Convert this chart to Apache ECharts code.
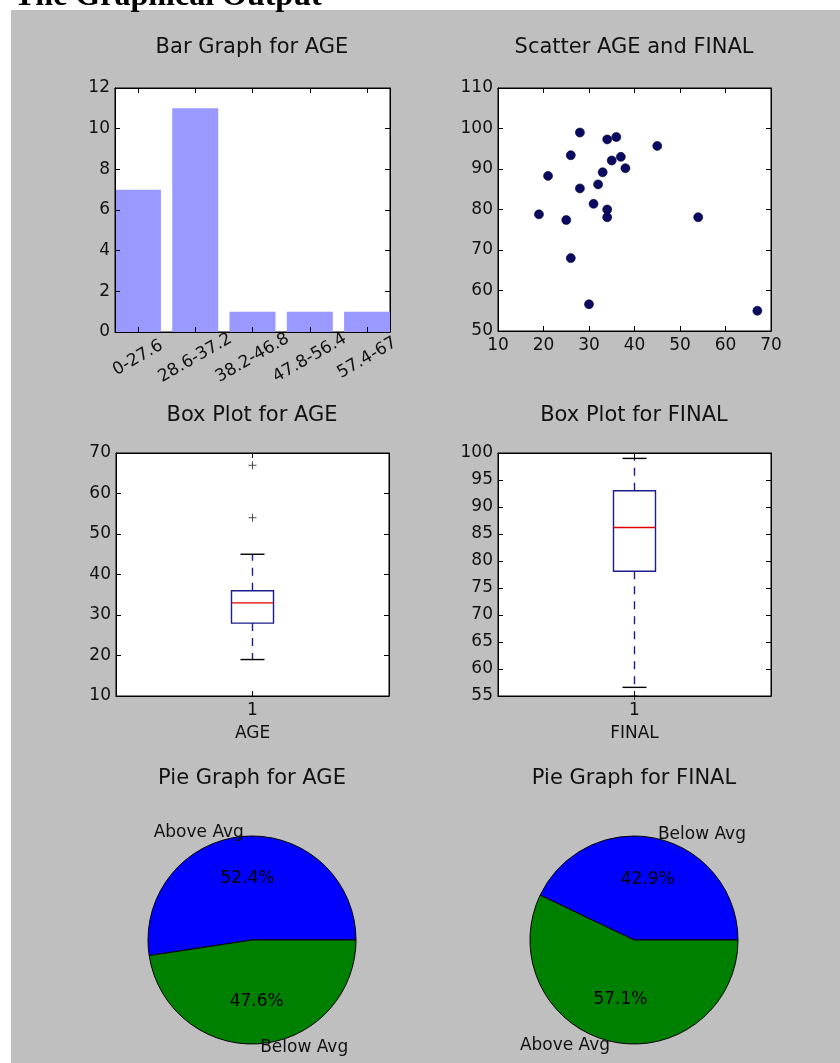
<!DOCTYPE html>
<html><head><meta charset="utf-8">
<script src="https://cdn.jsdelivr.net/npm/echarts@6/dist/echarts.min.js"></script>
<style>html,body{margin:0;padding:0;background:#fff;overflow:hidden;} #c{width:840px;height:1063px;}</style>
</head><body><div id="c"></div>
<script>
// ---------- data ----------
const binLabels = ['0-27.6', '28.6-37.2', '38.2-46.8', '47.8-56.4', '57.4-67'];
const binCounts = [7, 11, 1, 1, 1];
const ageValues = [19, 21, 25, 26, 26, 28, 28, 30, 31, 32, 33, 34, 34, 34, 35, 36, 37, 38, 45, 54, 67];
const finalValues = [78.8, 88.3, 77.4, 93.4, 68, 99, 85.2, 56.6, 81.4, 86.2, 89.2, 97.3, 80, 78.1, 92.1, 97.9, 93, 90.2, 95.7, 78.1, 55];
const ageBox = [19, 28, 33, 36, 45];          // low whisker, Q1, median, Q3, high whisker
const ageOutliers = [54, 67];
const finalBox = [56.6, 78.1, 86.2, 93.0, 99];
const finalOutliers = [55];
const ageSliceNames = ['Above Avg', 'Below Avg'];
const ageShares = [52.4, 47.6];
const finalSliceNames = ['Below Avg', 'Above Avg'];
const finalShares = [42.9, 57.1];
const panelTitles = ['Bar Graph for AGE', 'Scatter AGE and FINAL', 'Box Plot for AGE', 'Box Plot for FINAL', 'Pie Graph for AGE', 'Pie Graph for FINAL'];
const heading = 'The Graphical Output';

// ---------- style ----------
const FONT = 'DejaVu Sans';
const TXT = '#111';
const TICK_FS = 17;
const BOX_COLOR = '#1c1c8c';
const PLUS = 'path://M3.5,0h1v3.5h3.5v1h-3.5v3.5h-1v-3.5h-3.5v-1h3.5z';

const grids = [
  {left: 115, top: 88, width: 275, height: 244},
  {left: 498, top: 88, width: 273, height: 243},
  {left: 116, top: 453, width: 273, height: 243},
  {left: 498, top: 453, width: 273, height: 243}
].map(g => Object.assign(g, {show: true, backgroundColor: '#fff', borderColor: '#000', borderWidth: 1, containLabel: false, outerBoundsMode: 'none'}));

function axis(dim, gi, pos, range, extra) {
  const main = (pos === 'bottom' || pos === 'left');
  const a = {
    type: 'value', gridIndex: gi, position: pos, z: 5,
    min: range[0], max: range[1],
    axisLine: {show: true, onZero: false, lineStyle: {color: '#000', width: 1}},
    axisTick: {show: true, inside: true, length: 5, lineStyle: {color: '#000', width: 1}},
    axisLabel: {show: main, fontSize: TICK_FS, color: TXT, fontFamily: FONT, margin: dim === 'x' ? 6 : 5},
    splitLine: {show: false}
  };
  if (range[2] !== undefined) a.interval = range[2];
  if (extra) {
    if (extra.ticks) { a.axisTick.customValues = extra.ticks; a.axisLabel.customValues = extra.ticks; }
    if (main && extra.label) Object.assign(a.axisLabel, extra.label);
    if (main && extra.name) Object.assign(a, extra.name);
  }
  return a;
}

const barX = {ticks: [0, 1, 2, 3, 4], label: {formatter: v => binLabels[Math.round(v)], rotate: 30, align: 'center', verticalAlign: 'middle', margin: 26}};
const boxXA = {ticks: [1], label: {formatter: () => '1', margin: 6},
  name: {name: 'AGE', nameLocation: 'middle', nameGap: 29, nameTextStyle: {fontSize: TICK_FS, color: TXT, fontFamily: FONT}}};
const boxXF = {ticks: [1], label: {formatter: () => '1', margin: 6},
  name: {name: 'FINAL', nameLocation: 'middle', nameGap: 29, nameTextStyle: {fontSize: TICK_FS, color: TXT, fontFamily: FONT}}};

const xAxes = [
  axis('x', 0, 'bottom', [-0.4, 4.4], barX), axis('x', 0, 'top', [-0.4, 4.4], barX),
  axis('x', 1, 'bottom', [10, 70, 10]), axis('x', 1, 'top', [10, 70, 10]),
  axis('x', 2, 'bottom', [0.5, 1.5], boxXA), axis('x', 2, 'top', [0.5, 1.5], boxXA),
  axis('x', 3, 'bottom', [0.5, 1.5], boxXF), axis('x', 3, 'top', [0.5, 1.5], boxXF)
];
const yAxes = [
  axis('y', 0, 'left', [0, 12, 2]), axis('y', 0, 'right', [0, 12, 2]),
  axis('y', 1, 'left', [50, 110, 10]), axis('y', 1, 'right', [50, 110, 10]),
  axis('y', 2, 'left', [10, 70, 10]), axis('y', 2, 'right', [10, 70, 10]),
  axis('y', 3, 'left', [55, 100, 5]), axis('y', 3, 'right', [55, 100, 5])
];

function renderBox(params, api) {
  const x = api.value(0);
  const p = [1, 2, 3, 4, 5].map(i => api.coord([x, api.value(i)]));
  const cx = p[0][0];
  const bw = 42, cw = 24, lw = 1.4;
  const dash = {stroke: BOX_COLOR, lineWidth: lw, lineDash: [8, 7]};
  const solid = {stroke: '#000', lineWidth: lw};
  return {type: 'group', children: [
    {type: 'line', shape: {x1: cx, y1: p[1][1], x2: cx, y2: p[0][1]}, style: dash},
    {type: 'line', shape: {x1: cx, y1: p[3][1], x2: cx, y2: p[4][1]}, style: dash},
    {type: 'line', shape: {x1: cx - cw / 2, y1: p[0][1], x2: cx + cw / 2, y2: p[0][1]}, style: solid},
    {type: 'line', shape: {x1: cx - cw / 2, y1: p[4][1], x2: cx + cw / 2, y2: p[4][1]}, style: solid},
    {type: 'rect', shape: {x: cx - bw / 2, y: p[3][1], width: bw, height: p[1][1] - p[3][1]}, style: {fill: '#fff', stroke: BOX_COLOR, lineWidth: lw}},
    {type: 'line', shape: {x1: cx - bw / 2, y1: p[2][1], x2: cx + bw / 2, y2: p[2][1]}, style: {stroke: '#e00000', lineWidth: lw}}
  ]};
}

function pieSeries(center, names, shares) {
  const data = names.map((n, i) => ({name: n, value: shares[i], itemStyle: {color: i === 0 ? '#0000ff' : '#008000'}}));
  return [
    {
      type: 'pie', center: center, radius: [0, 104], startAngle: 0, clockwise: false,
      avoidLabelOverlap: false, silent: true, animation: false,
      itemStyle: {borderColor: '#000', borderWidth: 1},
      label: {show: true, position: 'outside', formatter: '{b}', fontSize: TICK_FS, color: TXT, fontFamily: FONT, distanceToLabelLine: 0},
      labelLine: {show: false, length: 4, length2: 0},
      emphasis: {disabled: true},
      data: data
    },
    {
      type: 'pie', center: center, radius: [13, 104], startAngle: 0, clockwise: false,
      avoidLabelOverlap: false, silent: true, animation: false, z: 3,
      itemStyle: {color: 'transparent', borderWidth: 0},
      label: {show: true, position: 'inside', formatter: p => p.value.toFixed(1) + '%', fontSize: TICK_FS, color: '#000', fontFamily: FONT},
      labelLine: {show: false},
      emphasis: {disabled: true},
      data: names.map((n, i) => ({name: n, value: shares[i]}))
    }
  ];
}

const titleCenters = [[252, 37], [634, 37], [252, 405], [634, 405], [252, 768], [634, 768]];
const titles = panelTitles.map((t, i) => ({
  text: t, left: titleCenters[i][0], top: titleCenters[i][1], textAlign: 'center', padding: 0,
  textStyle: {fontSize: 21, fontWeight: 'normal', color: TXT, fontFamily: FONT}
}));
titles.push({text: heading, left: 14, top: -19, padding: 0,
  textStyle: {fontSize: 32, fontWeight: 'bold', color: '#000', fontFamily: 'Liberation Serif'}});

const option = {
  animation: false,
  backgroundColor: '#fff',
  graphic: [{type: 'rect', z: -10, shape: {x: 11, y: 10, width: 829, height: 1053}, style: {fill: '#bfbfbf'}}],
  title: titles,
  grid: grids,
  xAxis: xAxes,
  yAxis: yAxes,
  series: [
    {type: 'bar', xAxisIndex: 0, yAxisIndex: 0, barWidth: 46, itemStyle: {color: '#9999ff'},
     data: binCounts.map((c, i) => [i, c])},
    {type: 'scatter', xAxisIndex: 2, yAxisIndex: 2, symbol: 'circle', symbolSize: 9,
     itemStyle: {color: '#0a0a60', borderColor: '#000033', borderWidth: 0.6, opacity: 1},
     data: ageValues.map((a, i) => [a, finalValues[i]])},
    {type: 'custom', xAxisIndex: 4, yAxisIndex: 4, renderItem: renderBox, encode: {x: 0, y: [1, 2, 3, 4, 5]},
     data: [[1].concat(ageBox)]},
    {type: 'scatter', xAxisIndex: 4, yAxisIndex: 4, symbol: PLUS, symbolSize: 8, itemStyle: {color: '#222'},
     data: ageOutliers.map(v => [1, v])},
    {type: 'custom', xAxisIndex: 6, yAxisIndex: 6, renderItem: renderBox, encode: {x: 0, y: [1, 2, 3, 4, 5]},
     data: [[1].concat(finalBox)]},
    {type: 'scatter', xAxisIndex: 6, yAxisIndex: 6, symbol: PLUS, symbolSize: 8, itemStyle: {color: '#222'},
     data: finalOutliers.map(v => [1, v])}
  ].concat(pieSeries([252, 940], ageSliceNames, ageShares), pieSeries([634, 940], finalSliceNames, finalShares))
};

const chart = echarts.init(document.getElementById('c'), null, {renderer: 'canvas'});
chart.setOption(option);
</script>
</body></html>
